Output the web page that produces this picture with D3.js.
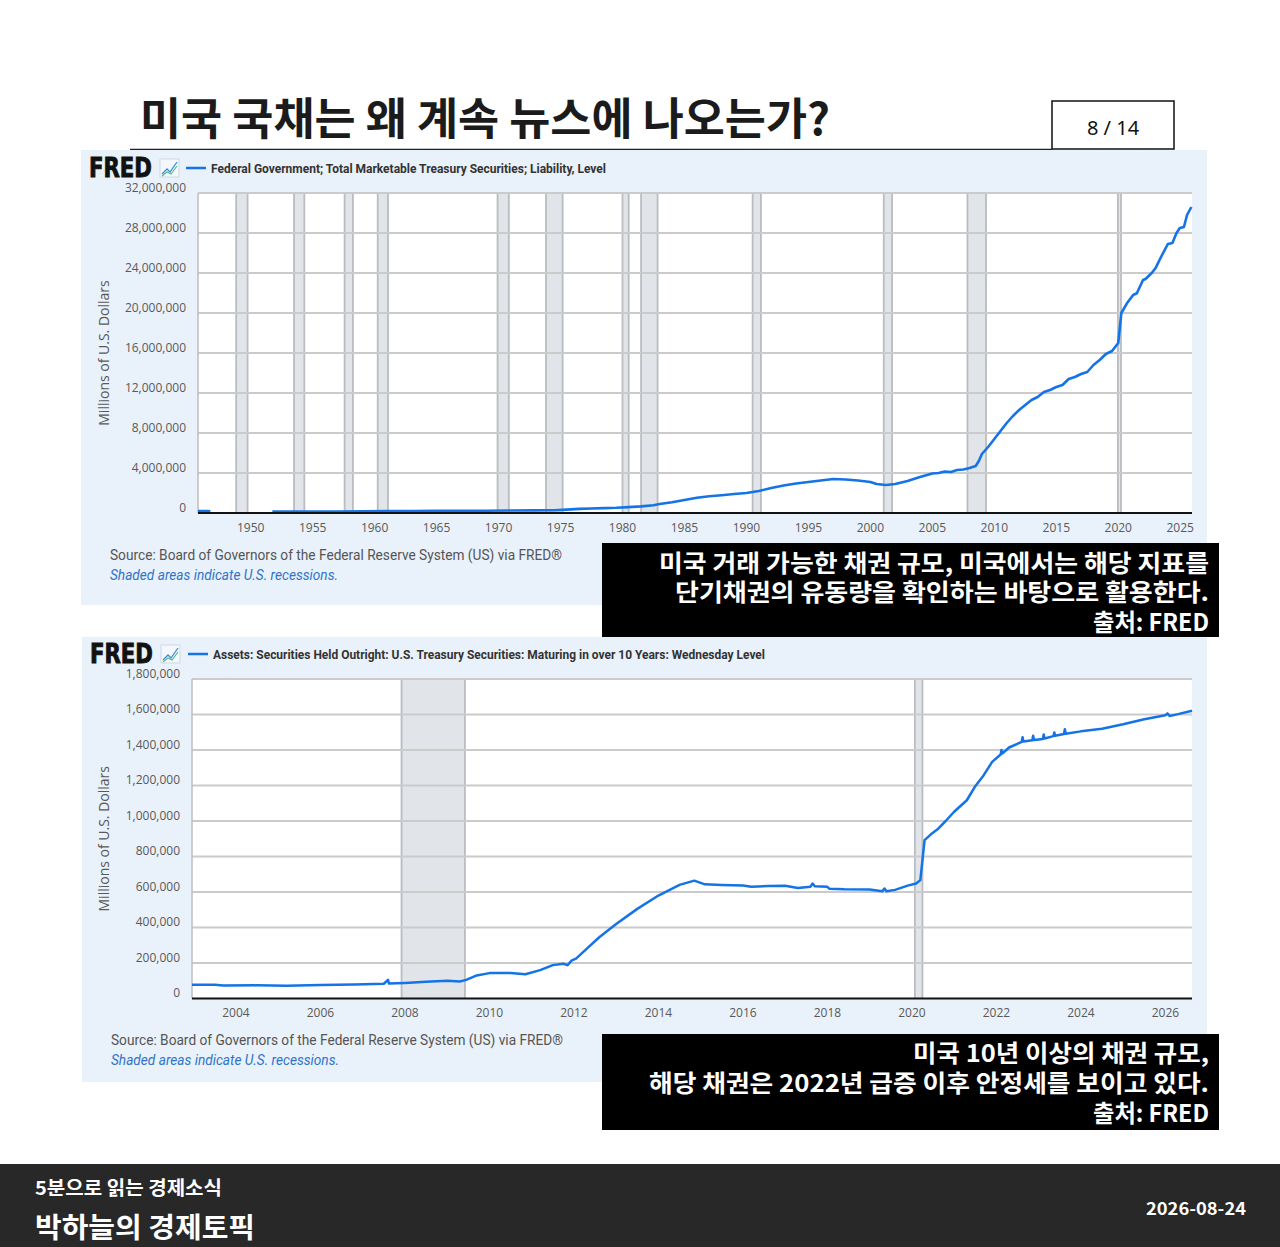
<!DOCTYPE html>
<html>
<head>
<meta charset="utf-8">
<script src="https://cdn.jsdelivr.net/npm/d3@7"></script>
<style>
  body { margin: 0; background: #fff; }
  svg { display: block; }
</style>
</head>
<body>
<div id="chart"></div>
<script>
// ---- data (millions of U.S. dollars, decimal years) ----
// Total marketable Treasury securities, quarterly (null = gap in series)
const topYears = [1945.75, 1946.0, 1946.5, 1946.75, 1947.0,
  1951.75, 1953, 1955, 1957, 1959, 1961, 1963, 1965, 1967, 1969, 1971, 1973, 1974.5,
  1975.5, 1976.5, 1977.5, 1978.5, 1979.5, 1980.5, 1981.5, 1982.5, 1983, 1984, 1985,
  1986, 1987, 1988, 1989, 1990, 1991, 1992, 1993, 1994, 1995, 1996, 1997, 1998, 1999,
  2000, 2000.5, 2001.25, 2002, 2003, 2004, 2005, 2005.5, 2006, 2006.5, 2007, 2007.5,
  2008, 2008.5, 2008.75, 2009, 2009.5, 2010, 2010.5, 2011, 2011.5, 2012, 2012.5,
  2013, 2013.5, 2014, 2014.5, 2015, 2015.5, 2016, 2016.5, 2017, 2017.5, 2018, 2018.5,
  2019, 2019.5, 2019.75, 2020.0, 2020.25, 2020.7, 2021.2, 2021.5, 2022.0, 2022.2,
  2022.7, 2023.0, 2023.45, 2024.0, 2024.37, 2024.7, 2024.97, 2025.3, 2025.55, 2025.9];
const topValues = [198000, 195000, 185000, 176000, null,
  137000, 147000, 155000, 155000, 175000, 187000, 204000, 213000, 215000, 226000, 245000, 264000, 270000,
  340000, 410000, 450000, 490000, 520000, 590000, 660000, 780000, 900000, 1080000, 1300000,
  1530000, 1680000, 1780000, 1900000, 2000000, 2200000, 2500000, 2750000, 2950000, 3100000, 3250000, 3400000, 3350000, 3250000,
  3100000, 2900000, 2800000, 2900000, 3200000, 3600000, 3950000, 4000000, 4150000, 4100000, 4300000, 4350000,
  4500000, 4700000, 5200000, 5900000, 6600000, 7400000, 8200000, 9000000, 9700000, 10300000, 10800000,
  11300000, 11600000, 12100000, 12300000, 12600000, 12800000, 13400000, 13600000, 13900000, 14100000, 14800000, 15300000,
  15900000, 16200000, 16600000, 17000000, 20000000, 20970000, 21800000, 21970000, 23300000, 23400000,
  24000000, 24470000, 25600000, 26900000, 27000000, 28000000, 28500000, 28600000, 29800000, 30600000];

// Fed holdings of Treasuries maturing in over 10 years, weekly (sampled)
const bottomYears = [2002.96, 2003.5, 2003.7, 2004.5, 2005.2, 2006, 2006.8, 2007.5, 2007.6, 2007.62,
  2008, 2008.5, 2009, 2009.3, 2009.45, 2009.7, 2010, 2010.5, 2010.85, 2011.2, 2011.5, 2011.75,
  2011.85, 2011.95, 2012.05, 2012.3, 2012.6, 2013, 2013.5, 2014, 2014.5, 2014.85, 2015.1, 2015.5,
  2016, 2016.2, 2016.6, 2017, 2017.3, 2017.6, 2017.65, 2017.7, 2018, 2018.05, 2018.4, 2019,
  2019.3, 2019.35, 2019.4, 2019.6, 2019.9, 2020.1, 2020.2, 2020.25, 2020.3, 2020.45, 2020.6,
  2020.8, 2021, 2021.3, 2021.5, 2021.7, 2021.9, 2022.1, 2022.12, 2022.14, 2022.3, 2022.6, 2022.62,
  2022.64, 2022.85, 2022.87, 2022.89, 2023.1, 2023.12, 2023.14, 2023.35, 2023.37, 2023.39,
  2023.6, 2023.62, 2023.64, 2024, 2024.5, 2025, 2025.5, 2026, 2026.05, 2026.1, 2026.3, 2026.63];
const bottomValues = [78000, 77000, 73000, 74000, 72000, 76000, 79000, 83000, 105000, 84000,
  88000, 95000, 100000, 96000, 105000, 130000, 143000, 143000, 137000, 160000, 188000, 196000,
  188000, 215000, 225000, 280000, 345000, 420000, 505000, 580000, 640000, 664000, 643000, 640000,
  637000, 629000, 634000, 635000, 623000, 630000, 648000, 632000, 629000, 618000, 615000, 614000,
  604000, 620000, 604000, 612000, 636000, 648000, 667000, 780000, 892000, 925000, 952000,
  1000000, 1052000, 1117000, 1196000, 1258000, 1333000, 1375000, 1400000, 1380000, 1414000, 1446000, 1472000,
  1448000, 1455000, 1480000, 1457000, 1462000, 1487000, 1465000, 1478000, 1499000, 1480000,
  1490000, 1517000, 1492000, 1505000, 1520000, 1545000, 1573000, 1596000, 1606000, 1592000, 1602000, 1621000];

// NBER recessions (shaded), decimal years
const topRecessions = [[1948.83, 1949.75], [1953.5, 1954.33], [1957.58, 1958.25], [1960.25, 1961.08],
  [1969.92, 1970.83], [1973.83, 1975.17], [1980.0, 1980.5], [1981.5, 1982.83], [1990.5, 1991.17],
  [2001.08, 2001.75], [2007.83, 2009.33], [2019.97, 2020.22]];
const bottomRecessions = [[2007.92, 2009.42], [2020.07, 2020.25]];

// ticks
const topYTicks = [0, 4000000, 8000000, 12000000, 16000000, 20000000, 24000000, 28000000, 32000000];
const topXTicks = [1950, 1955, 1960, 1965, 1970, 1975, 1980, 1985, 1990, 1995, 2000, 2005, 2010, 2015, 2020, 2025];
const bottomYTicks = [0, 200000, 400000, 600000, 800000, 1000000, 1200000, 1400000, 1600000, 1800000];
const bottomXTicks = [2004, 2006, 2008, 2010, 2012, 2014, 2016, 2018, 2020, 2022, 2024, 2026];

const W = 1280, H = 1247;
const KR = "'Noto Sans CJK KR', 'Noto Sans', sans-serif";
const LINE_BLUE = "#1473e6";

const svg = d3.select("#chart").append("svg")
    .attr("width", W)
    .attr("height", H);

svg.append("rect").attr("width", W).attr("height", H).attr("fill", "#fff");

// squeeze / stretch text to the width it has in the picture
function fit(sel, w) {
    sel.attr("textLength", w).attr("lengthAdjust", "spacingAndGlyphs");
    return sel;
}

// ---- page title ----
fit(svg.append("text")
    .attr("x", 140).attr("y", 135)
    .attr("font-family", KR).attr("font-weight", 700).attr("font-size", 44)
    .attr("fill", "#1b1b1b")
    .text("미국 국채는 왜 계속 뉴스에 나오는가?"), 690);

svg.append("line")
    .attr("x1", 130).attr("x2", 1052).attr("y1", 149.5).attr("y2", 149.5)
    .attr("stroke", "#222").attr("stroke-width", 1.5);

svg.append("rect")
    .attr("x", 1052).attr("y", 101).attr("width", 122).attr("height", 48)
    .attr("fill", "#fff").attr("stroke", "#111").attr("stroke-width", 1.5);
svg.append("text")
    .attr("x", 1113).attr("y", 127).attr("text-anchor", "middle").attr("dominant-baseline", "central")
    .attr("font-family", "'Noto Sans', sans-serif").attr("font-size", 20).attr("fill", "#111")
    .text("8 / 14");

// ---- one FRED panel ----
function drawFred(cfg) {
    let g = svg.append("g");

    g.append("rect")
        .attr("x", cfg.panel[0]).attr("y", cfg.panel[1])
        .attr("width", cfg.panel[2] - cfg.panel[0]).attr("height", cfg.panel[3] - cfg.panel[1])
        .attr("fill", "#e9f1fa");

    // logo + legend
    let hy = cfg.headerY;
    fit(g.append("text")
        .attr("x", cfg.logoX).attr("y", hy + 9)
        .attr("font-family", "'DejaVu Sans', sans-serif").attr("font-weight", 900).attr("font-size", 26)
        .attr("fill", "#111").attr("stroke", "#111").attr("stroke-width", 0.9)
        .text("FRED"), 63);
    let ix = cfg.logoX + 71;
    g.append("rect").attr("x", ix).attr("y", hy - 9).attr("width", 19).attr("height", 18)
        .attr("fill", "#f4f7fb").attr("stroke", "#c9d3de").attr("stroke-width", 0.8);
    g.append("polyline")
        .attr("points", [[ix + 2, hy + 6], [ix + 7, hy + 1], [ix + 10, hy + 4], [ix + 17, hy - 6]].join(" "))
        .attr("fill", "none").attr("stroke", "#3b8fd9").attr("stroke-width", 1.3);
    g.append("polyline")
        .attr("points", [[ix + 2, hy + 8], [ix + 7, hy + 4], [ix + 11, hy + 6], [ix + 17, hy - 2]].join(" "))
        .attr("fill", "none").attr("stroke", "#55b88a").attr("stroke-width", 1.1);

    g.append("line")
        .attr("x1", cfg.legendX).attr("x2", cfg.legendX + 20).attr("y1", hy).attr("y2", hy)
        .attr("stroke", LINE_BLUE).attr("stroke-width", 2.5);
    fit(g.append("text")
        .attr("x", cfg.legendX + 25).attr("y", hy + 4.5)
        .attr("font-family", "'Liberation Sans Narrow', 'Roboto', sans-serif").attr("font-weight", 700)
        .attr("font-size", 13).attr("fill", "#333")
        .text(cfg.title), cfg.titleW);

    let x = d3.scaleLinear().domain(cfg.xDomain).range([cfg.plot.left, cfg.plot.right]);
    let y = d3.scaleLinear().domain([0, cfg.yMax]).range([cfg.plot.bottom, cfg.plot.top]);

    g.append("rect")
        .attr("x", cfg.plot.left).attr("y", cfg.plot.top)
        .attr("width", cfg.plot.right - cfg.plot.left).attr("height", cfg.plot.bottom - cfg.plot.top)
        .attr("fill", "#fff");

    // recession shading
    let rec = g.selectAll(".rec").data(cfg.recessions).enter().append("g").attr("class", "rec");
    rec.append("rect")
        .attr("x", d => x(d[0])).attr("y", cfg.plot.top)
        .attr("width", d => x(d[1]) - x(d[0])).attr("height", cfg.plot.bottom - cfg.plot.top)
        .attr("fill", "#e1e5ea");
    rec.selectAll("line").data(d => d).enter().append("line")
        .attr("x1", d => x(d)).attr("x2", d => x(d))
        .attr("y1", cfg.plot.top).attr("y2", cfg.plot.bottom)
        .attr("stroke", "#b9bcc0").attr("stroke-width", 1.8);

    // horizontal grid
    g.selectAll(".grid").data(cfg.yTicks.filter(t => t > 0)).enter().append("line")
        .attr("x1", cfg.plot.left).attr("x2", cfg.plot.right)
        .attr("y1", d => y(d)).attr("y2", d => y(d))
        .attr("stroke", "#cbcbcb").attr("stroke-width", 1.8);

    g.append("line")
        .attr("x1", cfg.plot.left).attr("x2", cfg.plot.left)
        .attr("y1", cfg.plot.top).attr("y2", cfg.plot.bottom)
        .attr("stroke", "#bdbdbd").attr("stroke-width", 1.5);

    // series
    let pts = cfg.years.map((yr, i) => ({ t: yr, v: cfg.values[i] }));
    let line = d3.line()
        .defined(d => d.v != null)
        .x(d => x(d.t))
        .y(d => y(d.v));
    g.append("path")
        .datum(pts)
        .attr("d", line)
        .attr("fill", "none")
        .attr("stroke", LINE_BLUE)
        .attr("stroke-width", cfg.lineW)
        .attr("stroke-linejoin", "round");

    // x axis line
    g.append("line")
        .attr("x1", cfg.plot.left).attr("x2", cfg.plot.right)
        .attr("y1", cfg.plot.bottom).attr("y2", cfg.plot.bottom)
        .attr("stroke", "#111").attr("stroke-width", 2);

    // tick labels
    let fmt = d3.format(",");
    g.selectAll(".ylab").data(cfg.yTicks).enter().append("text")
        .attr("x", cfg.plot.left - 12).attr("y", d => y(d) - 6)
        .attr("text-anchor", "end").attr("dominant-baseline", "central")
        .attr("font-family", "'Open Sans', sans-serif").attr("font-size", 12)
        .attr("fill", "#595959")
        .text(d => fmt(d));
    g.selectAll(".xlab").data(cfg.xTicks).enter().append("text")
        .attr("x", d => x(d)).attr("y", cfg.plot.bottom + 14)
        .attr("text-anchor", "middle").attr("dominant-baseline", "central")
        .attr("font-family", "'Open Sans', sans-serif").attr("font-size", 12)
        .attr("fill", "#595959")
        .text(d => d);

    g.append("text")
        .attr("transform", "translate(103," + ((cfg.plot.top + cfg.plot.bottom) / 2) + ") rotate(-90)")
        .attr("text-anchor", "middle").attr("dominant-baseline", "central")
        .attr("font-family", "'Open Sans', sans-serif").attr("font-size", 14)
        .attr("fill", "#595959")
        .text("Millions of U.S. Dollars");

    // source lines
    fit(g.append("text")
        .attr("x", cfg.sourceX).attr("y", cfg.sourceY)
        .attr("dominant-baseline", "central")
        .attr("font-family", "'Roboto', sans-serif").attr("font-size", 14).attr("fill", "#555")
        .text("Source: Board of Governors of the Federal Reserve System (US) via FRED®"), 452);
    fit(g.append("text")
        .attr("x", cfg.sourceX).attr("y", cfg.sourceY + 20)
        .attr("dominant-baseline", "central")
        .attr("font-family", "'Roboto', sans-serif").attr("font-size", 14).attr("font-style", "italic")
        .attr("fill", "#2f74c8")
        .text("Shaded areas indicate U.S. recessions."), 228);
}

drawFred({
    panel: [81, 150, 1207, 605],
    headerY: 168, logoX: 89, legendX: 186,
    title: "Federal Government; Total Marketable Treasury Securities; Liability, Level", titleW: 395,
    plot: { left: 198, right: 1192, top: 193, bottom: 513 },
    xDomain: [1945.75, 2025.95], yMax: 32000000,
    yTicks: topYTicks, xTicks: topXTicks, recessions: topRecessions,
    years: topYears, values: topValues, lineW: 2.6,
    sourceX: 110, sourceY: 555
});

drawFred({
    panel: [82, 637, 1207, 1082],
    headerY: 654, logoX: 90, legendX: 188,
    title: "Assets: Securities Held Outright: U.S. Treasury Securities: Maturing in over 10 Years: Wednesday Level", titleW: 552,
    plot: { left: 192, right: 1192, top: 679, bottom: 998.5 },
    xDomain: [2002.96, 2026.63], yMax: 1800000,
    yTicks: bottomYTicks, xTicks: bottomXTicks, recessions: bottomRecessions,
    years: bottomYears, values: bottomValues, lineW: 2.5,
    sourceX: 111, sourceY: 1040
});

// ---- black caption boxes ----
function caption(box, lines) {
    svg.append("rect")
        .attr("x", box[0]).attr("y", box[1]).attr("width", box[2] - box[0]).attr("height", box[3] - box[1])
        .attr("fill", "#000");
    lines.forEach(function(l) {
        fit(svg.append("text")
            .attr("x", 1209).attr("y", l.y)
            .attr("text-anchor", "end").attr("dominant-baseline", "central")
            .attr("font-family", KR).attr("font-weight", 700).attr("font-size", 24)
            .attr("fill", "#fff")
            .text(l.text), l.w);
    });
}

caption([602, 543, 1219, 637], [
    { text: "미국 거래 가능한 채권 규모, 미국에서는 해당 지표를", y: 561, w: 550 },
    { text: "단기채권의 유동량을 확인하는 바탕으로 활용한다.", y: 590, w: 534 },
    { text: "출처: FRED", y: 620, w: 116 }
]);
caption([602, 1034, 1219, 1130], [
    { text: "미국 10년 이상의 채권 규모,", y: 1051, w: 296 },
    { text: "해당 채권은 2022년 급증 이후 안정세를 보이고 있다.", y: 1081, w: 560 },
    { text: "출처: FRED", y: 1111, w: 116 }
]);

// ---- footer ----
svg.append("rect")
    .attr("x", 0).attr("y", 1164).attr("width", W).attr("height", H - 1164)
    .attr("fill", "#282828");
fit(svg.append("text")
    .attr("x", 35).attr("y", 1186).attr("dominant-baseline", "central")
    .attr("font-family", KR).attr("font-weight", 700).attr("font-size", 19).attr("fill", "#fff")
    .text("5분으로 읽는 경제소식"), 187);
fit(svg.append("text")
    .attr("x", 35).attr("y", 1226).attr("dominant-baseline", "central")
    .attr("font-family", KR).attr("font-weight", 700).attr("font-size", 28).attr("fill", "#fff")
    .text("박하늘의 경제토픽"), 220);
fit(svg.append("text")
    .attr("x", 1246).attr("y", 1207).attr("text-anchor", "end").attr("dominant-baseline", "central")
    .attr("font-family", KR).attr("font-weight", 700).attr("font-size", 17).attr("fill", "#fff")
    .text("2026-08-24"), 100);
</script>
</body>
</html>
